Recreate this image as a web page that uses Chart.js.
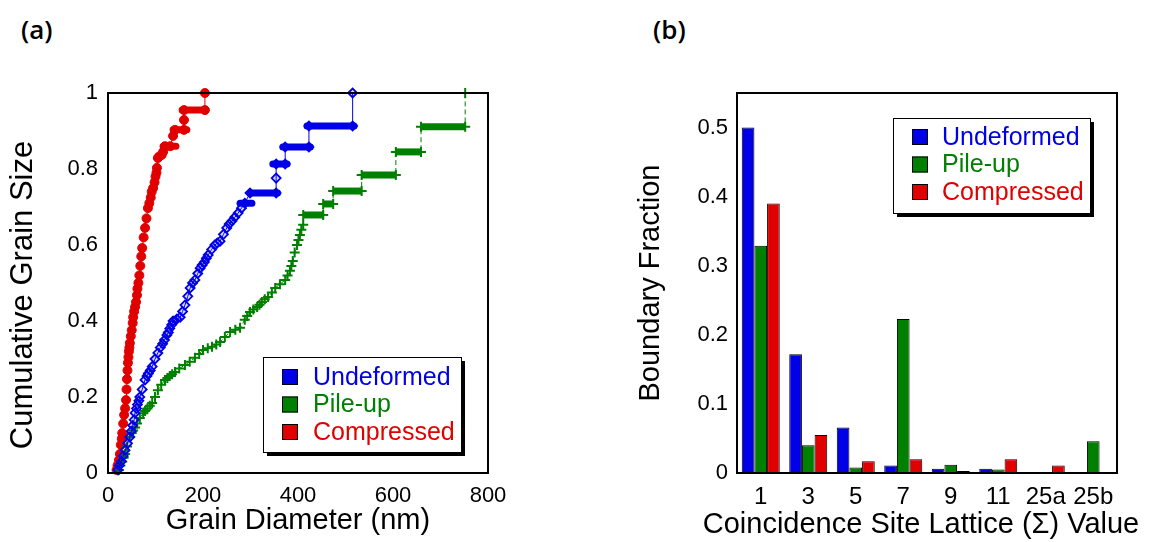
<!DOCTYPE html>
<html>
<head>
<meta charset="utf-8">
<script src="https://cdn.jsdelivr.net/npm/chart.js@4/dist/chart.umd.min.js"></script>
<style>
  body { margin: 0; background: #fff; width: 1152px; height: 542px; overflow: hidden; position: relative; }
  canvas { position: absolute; top: 0; }
  #grain { left: 0; }
  #csl { left: 576px; }
  .panel { position: absolute; top: 11px; font: 600 26px "Open Sans", sans-serif; color: #000; }
</style>
</head>
<body>
<div class="panel" style="left:21px">(a)</div>
<div class="panel" style="left:653px">(b)</div>
<canvas id="grain" width="576" height="542"></canvas>
<canvas id="csl" width="576" height="542"></canvas>
<script>
// series names and colours shared by both panels
const seriesNames = ['Undeformed', 'Pile-up', 'Compressed'];
const seriesColors = ['rgb(0,0,230)', 'rgb(0,128,0)', 'rgb(225,0,0)'];

// (a) cumulative grain size, points in drawing order (nm, fraction)
const undeformedX = [21, 24, 28, 32, 36, 41, 46, 49, 52, 55, 57, 60, 62, 65, 67, 72, 78, 82, 85, 89, 93, 99, 105, 110, 115, 119, 124, 127, 130, 134, 137, 145, 152, 157, 162, 168, 173, 178, 183, 189, 194, 198, 203, 207, 211, 218, 225, 230, 236, 243, 250, 255, 261, 267, 274, 281, 288, 299, 354, 354, 354, 373, 373, 423, 423, 515, 515];
const undeformedY = [0.008, 0.02, 0.03, 0.045, 0.06, 0.078, 0.095, 0.11, 0.125, 0.14, 0.158, 0.17, 0.18, 0.19, 0.2, 0.22, 0.245, 0.255, 0.262, 0.27, 0.28, 0.3, 0.316, 0.33, 0.34, 0.35, 0.363, 0.37, 0.38, 0.39, 0.4, 0.405, 0.41, 0.425, 0.442, 0.465, 0.487, 0.5, 0.508, 0.525, 0.539, 0.547, 0.555, 0.565, 0.574, 0.588, 0.6, 0.605, 0.61, 0.628, 0.645, 0.655, 0.663, 0.673, 0.684, 0.697, 0.71, 0.737, 0.737, 0.776, 0.813, 0.813, 0.858, 0.858, 0.913, 0.913, 1.0];
const pileUpX = [23, 26, 30, 33, 36, 40, 46, 50, 53, 57, 61, 67, 74, 78, 83, 88, 93, 99, 105, 112, 120, 125, 130, 135, 141, 150, 162, 172, 183, 192, 200, 210, 219, 228, 236, 246, 257, 268, 278, 288, 293, 299, 306, 314, 319, 324, 330, 337, 345, 352, 362, 373, 378, 383, 386, 389, 393, 398, 401, 404, 407, 411, 411, 453, 453, 474, 474, 534, 534, 606, 606, 659, 659, 752, 752];
const pileUpY = [0.008, 0.02, 0.03, 0.04, 0.05, 0.07, 0.095, 0.105, 0.112, 0.12, 0.13, 0.145, 0.157, 0.163, 0.17, 0.177, 0.184, 0.2, 0.218, 0.232, 0.245, 0.25, 0.255, 0.26, 0.266, 0.275, 0.284, 0.293, 0.303, 0.313, 0.324, 0.328, 0.332, 0.338, 0.345, 0.358, 0.371, 0.377, 0.382, 0.403, 0.413, 0.424, 0.43, 0.437, 0.443, 0.45, 0.457, 0.463, 0.475, 0.487, 0.497, 0.508, 0.52, 0.532, 0.545, 0.558, 0.58, 0.6, 0.613, 0.626, 0.64, 0.653, 0.679, 0.679, 0.708, 0.708, 0.742, 0.742, 0.784, 0.784, 0.845, 0.845, 0.911, 0.911, 1.0];
const compressedX = [18, 20, 23, 25, 27, 29, 30, 32, 34, 36, 38, 39, 40, 41, 42, 43, 44, 45, 46, 48, 50, 52, 53, 55, 57, 59, 61, 62, 64, 66, 68, 70, 72, 75, 78, 81, 84, 87, 90, 92, 95, 98, 100, 102, 103, 105, 108, 113, 116, 120, 131, 137, 141, 160, 160, 160, 204, 204];
const compressedY = [0.008, 0.02, 0.034, 0.05, 0.074, 0.09, 0.105, 0.13, 0.153, 0.17, 0.192, 0.22, 0.247, 0.27, 0.29, 0.305, 0.32, 0.33, 0.342, 0.36, 0.376, 0.395, 0.41, 0.425, 0.437, 0.45, 0.468, 0.485, 0.5, 0.52, 0.545, 0.57, 0.592, 0.62, 0.645, 0.67, 0.697, 0.71, 0.725, 0.74, 0.75, 0.765, 0.78, 0.79, 0.803, 0.829, 0.833, 0.837, 0.845, 0.86, 0.86, 0.887, 0.903, 0.903, 0.929, 0.955, 0.955, 1.0];

// plateaus where markers pile up: [fraction, from nm, to nm]
const undeformedSteps = [[0.71, 278, 303], [0.737, 299, 357], [0.813, 347, 377], [0.858, 368, 426], [0.913, 419, 518]];
const pileUpSteps = [[0.679, 411, 455], [0.708, 453, 476], [0.742, 474, 535], [0.784, 534, 607], [0.845, 606, 660], [0.911, 657, 752]];
const compressedSteps = [[0.86, 116, 143], [0.903, 137, 166], [0.955, 156, 206]];

const diameterTicks = [0, 200, 400, 600, 800];
const fractionTicks = [0, 0.2, 0.4, 0.6, 0.8, 1];

// (b) boundary fraction per CSL value
const cslLabels = ['1', '3', '5', '7', '9', '11', '25a', '25b'];
const undeformedCsl = [0.50, 0.172, 0.066, 0.011, 0.006, 0.006, 0, 0];
const pileUpCsl = [0.329, 0.040, 0.008, 0.223, 0.012, 0.005, 0, 0.046];
const compressedCsl = [0.390, 0.055, 0.017, 0.020, 0.003, 0.020, 0.011, 0.0015];
const boundaryTicks = [0, 0.1, 0.2, 0.3, 0.4, 0.5];

const family = '"Liberation Sans", Arial, sans-serif';
const fmt = v => String(Math.round(v * 10) / 10);

// black frame around the plot area
const frame = {
  id: 'frame',
  afterDraw(chart) {
    const { ctx, chartArea: a } = chart;
    ctx.save();
    ctx.strokeStyle = '#000';
    ctx.lineWidth = 2;
    ctx.strokeRect(a.left, a.top, a.right - a.left, a.bottom - a.top);
    ctx.restore();
  }
};

// axis titles drawn by hand so they are not squeezed to the axis width
function axisTitles(items) {
  return {
    id: 'axisTitles',
    afterDraw(chart) {
      const ctx = chart.ctx;
      items.forEach(t => {
        ctx.save();
        ctx.translate(t.x, t.y);
        ctx.rotate(t.rot || 0);
        ctx.font = t.size + 'px ' + family;
        ctx.fillStyle = '#000';
        ctx.textAlign = 'center';
        ctx.textBaseline = 'middle';
        ctx.fillText(t.text, 0, 0);
        ctx.restore();
      });
    }
  };
}

// boxed legend with drop shadow, placed inside the plot
function boxLegend(box) {
  return {
    id: 'boxLegend',
    afterDraw(chart) {
      const ctx = chart.ctx;
      ctx.save();
      ctx.fillStyle = '#000';
      ctx.fillRect(box.x + 4, box.y + 4, box.w, box.h);
      ctx.fillStyle = '#fff';
      ctx.fillRect(box.x, box.y, box.w, box.h);
      ctx.strokeStyle = '#000';
      ctx.lineWidth = 1;
      ctx.strokeRect(box.x + 0.5, box.y + 0.5, box.w, box.h);
      ctx.font = '25px ' + family;
      ctx.textBaseline = 'middle';
      seriesNames.forEach((name, i) => {
        const cy = box.y + box.row0 + i * box.dy;
        ctx.fillStyle = seriesColors[i];
        ctx.fillRect(box.x + box.sq, cy - 8, 16, 16);
        ctx.strokeStyle = '#000';
        ctx.strokeRect(box.x + box.sq + 0.5, cy - 7.5, 15, 15);
        ctx.fillStyle = seriesColors[i];
        ctx.fillText(name, box.x + box.tx, cy + 1);
      });
      ctx.restore();
    }
  };
}

const zip = (xs, ys) => xs.map((x, i) => ({ x, y: ys[i] }));

const markerStyles = [
  { pointStyle: 'rectRot', pointRadius: 4.5, pointBorderWidth: 1.8, pointBackgroundColor: 'rgba(0,0,230,0.15)', borderDash: [], cap: 'round' },
  { pointStyle: 'cross', pointRadius: 5, pointBorderWidth: 2, pointBackgroundColor: 'rgba(0,0,0,0)', borderDash: [5, 3], cap: 'butt' },
  { pointStyle: 'circle', pointRadius: 4.5, pointBorderWidth: 1, pointBackgroundColor: seriesColors[2], borderDash: [], cap: 'round' }
];

const curves = [zip(undeformedX, undeformedY), zip(pileUpX, pileUpY), zip(compressedX, compressedY)];
const steps = [undeformedSteps, pileUpSteps, compressedSteps];

const grainDatasets = [];
steps.forEach((list, i) => {
  list.forEach(([y, x0, x1]) => {
    grainDatasets.push({
      label: '',
      data: [{ x: x0, y }, { x: x1, y }],
      showLine: true,
      borderColor: seriesColors[i],
      borderWidth: 7,
      borderCapStyle: markerStyles[i].cap,
      pointRadius: 0,
      clip: false
    });
  });
});
curves.forEach((data, i) => {
  const m = markerStyles[i];
  grainDatasets.push({
    label: seriesNames[i],
    data,
    showLine: true,
    borderColor: seriesColors[i],
    borderWidth: 1,
    borderDash: m.borderDash,
    pointStyle: m.pointStyle,
    pointRadius: m.pointRadius,
    pointBorderWidth: m.pointBorderWidth,
    pointBorderColor: seriesColors[i],
    pointBackgroundColor: m.pointBackgroundColor,
    clip: false
  });
});

new Chart(document.getElementById('grain'), {
  type: 'scatter',
  data: { datasets: grainDatasets },
  options: {
    responsive: false,
    animation: false,
    layout: { padding: { top: 93, right: 88, left: 0, bottom: 0 } },
    plugins: { legend: { display: false }, tooltip: { enabled: false } },
    scales: {
      x: {
        type: 'linear', min: 0, max: 800,
        afterFit: s => { s.height = 69; },
        afterBuildTicks: s => { s.ticks = diameterTicks.map(value => ({ value })); },
        grid: { display: false, drawTicks: false },
        border: { display: false },
        ticks: { font: { family, size: 22 }, color: '#000', padding: 10, maxRotation: 0 },
        title: { display: true, text: 'Grain Diameter (nm)', font: { family, size: 29 }, color: '#000', padding: { top: 0, bottom: 4 } }
      },
      y: {
        type: 'linear', min: 0, max: 1,
        afterFit: s => { s.width = 108; },
        afterBuildTicks: s => { s.ticks = fractionTicks.map(value => ({ value })); },
        grid: { display: false, drawTicks: false },
        border: { display: false },
        ticks: { font: { family, size: 22 }, color: '#000', padding: 10, callback: fmt },
        title: { display: false }
      }
    }
  },
  plugins: [
    frame,
    axisTitles([{ text: 'Cumulative Grain Size', x: 23, y: 295, rot: -Math.PI / 2, size: 31 }]),
    boxLegend({ x: 263, y: 357, w: 198, h: 95, row0: 20, dy: 27.5, sq: 19, tx: 50 })
  ]
});

const cslSeries = [undeformedCsl, pileUpCsl, compressedCsl];

new Chart(document.getElementById('csl'), {
  type: 'bar',
  data: {
    labels: cslLabels,
    datasets: cslSeries.map((data, i) => ({
      label: seriesNames[i],
      data,
      backgroundColor: seriesColors[i],
      borderColor: '#000',
      borderWidth: 1,
      borderSkipped: 'bottom',
      categoryPercentage: 0.8,
      barPercentage: 1.0
    }))
  },
  options: {
    responsive: false,
    animation: false,
    layout: { padding: { top: 93, right: 35, left: 0, bottom: 0 } },
    plugins: { legend: { display: false }, tooltip: { enabled: false } },
    scales: {
      x: {
        afterFit: s => { s.height = 69; },
        grid: { display: false, drawTicks: false },
        border: { display: false },
        ticks: { font: { family, size: 24 }, color: '#000', padding: 10, maxRotation: 0, autoSkip: false },
        title: { display: false }
      },
      y: {
        min: 0, max: 0.55,
        afterFit: s => { s.width = 161; },
        afterBuildTicks: s => { s.ticks = boundaryTicks.map(value => ({ value })); },
        grid: { display: false, drawTicks: false },
        border: { display: false },
        ticks: { font: { family, size: 22 }, color: '#000', padding: 9, callback: fmt },
        title: { display: true, text: 'Boundary Fraction', font: { family, size: 29 }, color: '#000', padding: { top: 58, bottom: 0 } }
      }
    }
  },
  plugins: [
    frame,
    axisTitles([{ text: 'Coincidence Site Lattice (Σ) Value', x: 345, y: 525, size: 29 }]),
    boxLegend({ x: 317, y: 118, w: 197, h: 95, row0: 19, dy: 27.5, sq: 19, tx: 49 })
  ]
});
</script>
</body>
</html>
